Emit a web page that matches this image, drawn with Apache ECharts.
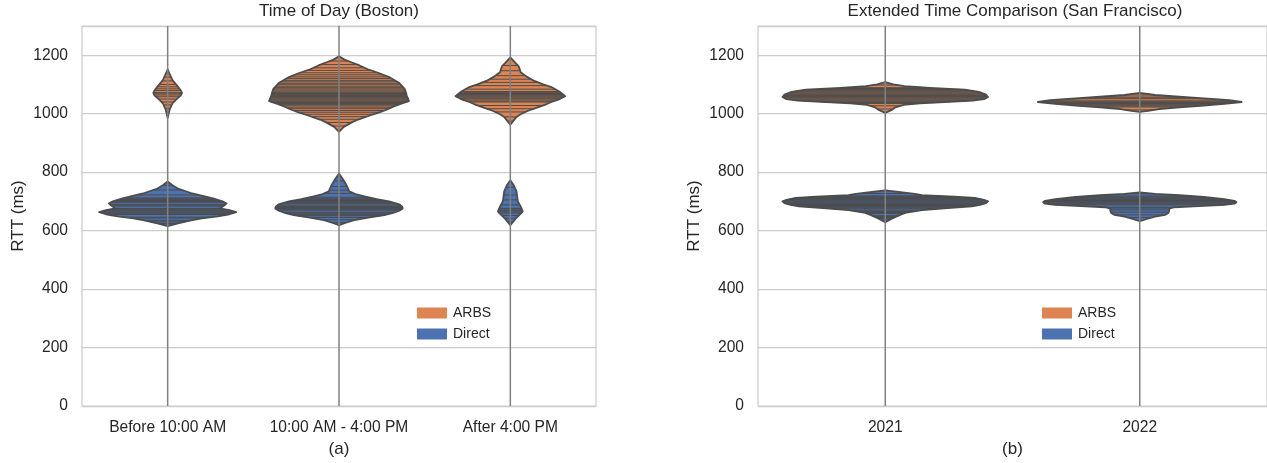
<!DOCTYPE html>
<html>
<head>
<meta charset="utf-8">
<script src="https://cdn.jsdelivr.net/npm/echarts@6/dist/echarts.min.js"></script>
<style>html,body{margin:0;padding:0;background:#fff}#chart{width:1267px;height:463px}</style>
</head>
<body>
<div id="chart"></div>
<script>
// ---------------- data ----------------
const bostonCategories = ['Before 10:00 AM', '10:00 AM - 4:00 PM', 'After 4:00 PM'];
const sfCategories = ['2021', '2022'];
const seriesNames = ['ARBS', 'Direct'];
const yTickMin = 0, yTickMax = 1300, yTickStep = 200;

// violin outlines: [RTT (ms), relative density]
const bostonArbsDensity = [
  [[1152,0],[1135,0.03],[1115,0.07],[1095,0.14],[1080,0.19],[1071,0.21],[1062,0.19],[1050,0.13],[1035,0.07],[1015,0.03],[986,0]],
  [[1196,0],[1185,0.08],[1176,0.18],[1165,0.3],[1152,0.42],[1140,0.57],[1125,0.73],[1105,0.88],[1084,0.96],[1070,0.98],[1060,0.99],[1050,1.01],[1043,1.02],[1035,0.92],[1025,0.8],[1016,0.72],[1005,0.6],[993,0.44],[980,0.28],[972,0.2],[955,0.07],[938,0]],
  [[1193,0],[1175,0.07],[1163,0.12],[1150,0.14],[1142,0.15],[1125,0.25],[1112,0.35],[1100,0.48],[1091,0.6],[1075,0.72],[1060,0.8],[1050,0.72],[1040,0.6],[1033,0.53],[1020,0.38],[1010,0.26],[998,0.15],[989,0.09],[962,0]]
];
const bostonDirectDensity = [
  [[768,0],[755,0.07],[744,0.15],[727,0.36],[710,0.66],[700,0.8],[693,0.86],[685,0.82],[676,0.76],[670,0.9],[663,1.0],[656,0.9],[649,0.73],[642,0.5],[636,0.36],[625,0.15],[615,0]],
  [[795,0],[775,0.06],[755,0.11],[734,0.15],[725,0.24],[717,0.37],[708,0.55],[700,0.73],[690,0.88],[683,0.92],[676,0.93],[668,0.88],[660,0.78],[653,0.66],[645,0.45],[636,0.22],[626,0.09],[619,0]],
  [[772,0],[755,0.05],[734,0.09],[715,0.1],[700,0.11],[683,0.15],[672,0.17],[666,0.18],[660,0.16],[653,0.13],[644,0.09],[636,0.06],[619,0]]
];
const sfArbsDensity = [
  [[1108,0],[1100,0.08],[1094,0.19],[1088,0.44],[1082,0.78],[1075,0.92],[1065,0.99],[1057,1.01],[1050,0.97],[1045,0.86],[1040,0.58],[1035,0.34],[1030,0.18],[1022,0.1],[1012,0.06],[1003,0]],
  [[1071,0],[1064,0.15],[1058,0.39],[1052,0.63],[1046,0.88],[1040,1.0],[1034,0.83],[1028,0.63],[1022,0.39],[1016,0.19],[1010,0.08],[1006,0]]
];
const sfDirectDensity = [
  [[738,0],[732,0.15],[726,0.29],[721,0.36],[716,0.68],[712,0.88],[705,0.97],[700,1.01],[694,0.99],[688,0.93],[683,0.85],[676,0.58],[670,0.36],[662,0.21],[653,0.14],[642,0.07],[629,0]],
  [[731,0],[726,0.15],[721,0.39],[715,0.63],[708,0.83],[702,0.93],[697,0.95],[692,0.93],[688,0.83],[684,0.58],[680,0.34],[675,0.29],[668,0.29],[660,0.28],[654,0.25],[648,0.15],[640,0.07],[632,0]]
];

// individual observations drawn as sticks (RTT, ms)
const bostonArbsSticks = [
  [1125,1112,1100,1092,1085,1079,1072,1068,1064,1058,1050,1040,1030,1018],
  [1180,1168,1157,1148,1140,1133,1126,1120,1114,1109,1104,1099,1094,1089,1085,1081,1077,1073,1069,1066,1062,1059,1056,1053,1050,1047,1044,1041,1038,1035,1031,1027,1022,1017,1011,1005,998,990,981,970,958],
  [1165,1147,1130,1118,1107,1096,1084,1076,1072,1069,1066,1063,1060,1057,1054,1051,1047,1043,1040,1028,1017,1006,989,975]
];
const bostonDirectSticks = [
  [755,739,722,712,709,706,703,700,697,690,687,684,676,673,670,667,664,661,658,655,646,643,635,630,624],
  [770,751,738,727,714,709,706,703,700,697,694,691,685,682,679,676,673,670,663,660,657,654,651,645,637,628],
  [748,722,705,688,676,671,668,664,660,652,642,630]
];
const sfArbsSticks = [
  [1098,1089,1086,1083,1080,1077,1074,1071,1068,1065,1062,1059,1056,1053,1050,1047,1044,1041,1038,1035,1027,1016],
  [1064,1057,1054,1051,1044,1041,1038,1035,1032,1029,1026,1023,1013]
];
const sfDirectSticks = [
  [727,719,716,713,710,707,704,701,698,695,692,689,686,683,680,677,674,668,665,662,659,651,648,645,642,636],
  [726,718,715,712,709,706,703,700,697,694,691,688,680,677,671,663,654,645]
];

// ---------------- styling ----------------
const COLOR_ARBS = '#dd8452';
const COLOR_DIRECT = '#4c72b0';
const INNER_GRAY = '#4c4c4c';
const TEXT = '#262626';
const FONT = '"Liberation Sans", Arial, sans-serif';

function densityAt(prof, v) {
  for (let j = 0; j < prof.length - 1; j++) {
    const a = prof[j], b = prof[j + 1];
    if (v <= a[0] && v >= b[0]) {
      const t = (a[0] - v) / (a[0] - b[0] || 1);
      return a[1] + (b[1] - a[1]) * t;
    }
  }
  return 0;
}

function violinRenderer(profiles, sticks, color) {
  return function (params, api) {
    const ci = api.value(0);
    const prof = profiles[ci];
    const band = api.size([1, 0])[0];
    const scale = band * 0.4;
    const cx = api.coord([ci, 0])[0];
    const left = [], right = [];
    prof.forEach(p => {
      const y = api.coord([ci, p[0]])[1];
      left.push([cx - p[1] * scale, y]);
      right.unshift([cx + p[1] * scale, y]);
    });
    const pts = left.concat(right);
    const children = [{
      type: 'polygon', shape: { points: pts },
      style: { fill: color, stroke: null }
    }];
    (sticks[ci] || []).forEach(v => {
      const w = densityAt(prof, v) * scale;
      const y = api.coord([ci, v])[1];
      children.push({
        type: 'line', shape: { x1: cx - w, y1: y, x2: cx + w, y2: y },
        style: { stroke: INNER_GRAY, lineWidth: 1 }
      });
    });
    children.push({
      type: 'polygon', shape: { points: pts },
      style: { fill: null, stroke: INNER_GRAY, lineWidth: 1.8, lineJoin: 'round' }
    });
    return { type: 'group', children: children };
  };
}

function stemRenderer(params, api) {
  const ci = api.value(0);
  const p0 = api.coord([ci, yTickMin]);
  const p1 = api.coord([ci, yTickMax]);
  return {
    type: 'line', shape: { x1: p0[0], y1: p0[1], x2: p1[0], y2: p1[1] },
    style: { stroke: '#808080', lineWidth: 1.5 }
  };
}

function xAxisFor(gi, cats, name) {
  return {
    type: 'category', gridIndex: gi, data: cats,
    name: name, nameLocation: 'middle', nameGap: 35,
    nameTextStyle: { fontSize: 17, color: TEXT, fontFamily: FONT },
    axisLine: { show: false }, axisTick: { show: false }, splitLine: { show: false },
    axisLabel: { fontSize: 15.6, color: TEXT, margin: 14, interval: 0, fontFamily: FONT }
  };
}
function yAxisFor(gi) {
  return {
    type: 'value', gridIndex: gi, min: yTickMin, max: yTickMax, interval: yTickStep,
    name: 'RTT (ms)', nameLocation: 'middle', nameGap: 55,
    nameTextStyle: { fontSize: 17, color: TEXT, fontFamily: FONT },
    axisLine: { show: false }, axisTick: { show: false },
    axisLabel: { fontSize: 15.6, color: TEXT, margin: 14, showMaxLabel: false, fontFamily: FONT,
      formatter: v => String(v) },
    splitLine: { lineStyle: { color: '#cccccc', width: 1.25 } }
  };
}
function violinSeries(name, gi, cats, profiles, sticks, color) {
  return {
    type: 'custom', name: name, xAxisIndex: gi, yAxisIndex: gi,
    renderItem: violinRenderer(profiles, sticks, color),
    itemStyle: { color: color },
    data: cats.map((c, i) => [i, profiles[i][0][0]]),
    z: 2, silent: true, clip: false
  };
}
function stemSeries(gi, cats) {
  return {
    type: 'custom', name: 'stem' + gi, xAxisIndex: gi, yAxisIndex: gi,
    renderItem: stemRenderer, data: cats.map((c, i) => [i, yTickMin]),
    z: 5, silent: true
  };
}
function legendFor(left) {
  return {
    data: seriesNames, orient: 'vertical', left: left, top: 301,
    icon: 'rect', itemWidth: 30, itemHeight: 11, itemGap: 7,
    itemStyle: { borderWidth: 0 },
    textStyle: { fontSize: 14, color: TEXT, lineHeight: 14, fontFamily: FONT, padding: [0, 0, 0, 1] }
  };
}

const chart = echarts.init(document.getElementById('chart'), null, { renderer: 'canvas' });
chart.setOption({
  animation: false,
  backgroundColor: '#ffffff',
  textStyle: { fontFamily: FONT },
  graphic: [
    { type: 'text', x: 339, y: 11, style: { text: 'Time of Day (Boston)', font: '17px ' + FONT, fill: TEXT, align: 'center', verticalAlign: 'middle' } },
    { type: 'text', x: 1015, y: 11, style: { text: 'Extended Time Comparison (San Francisco)', font: '17px ' + FONT, fill: TEXT, align: 'center', verticalAlign: 'middle' } }
  ],
  grid: [
    { left: 82, top: 26, width: 514, height: 383, show: true, borderColor: '#cccccc', borderWidth: 1.25, backgroundColor: 'transparent' },
    { left: 758, top: 26, width: 514, height: 383, show: true, borderColor: '#cccccc', borderWidth: 1.25, backgroundColor: 'transparent' }
  ],
  xAxis: [xAxisFor(0, bostonCategories, '(a)'), xAxisFor(1, sfCategories, '(b)')],
  yAxis: [yAxisFor(0), yAxisFor(1)],
  legend: [legendFor(412), legendFor(1037)],
  series: [
    violinSeries('ARBS', 0, bostonCategories, bostonArbsDensity, bostonArbsSticks, COLOR_ARBS),
    violinSeries('Direct', 0, bostonCategories, bostonDirectDensity, bostonDirectSticks, COLOR_DIRECT),
    violinSeries('ARBS', 1, sfCategories, sfArbsDensity, sfArbsSticks, COLOR_ARBS),
    violinSeries('Direct', 1, sfCategories, sfDirectDensity, sfDirectSticks, COLOR_DIRECT),
    stemSeries(0, bostonCategories),
    stemSeries(1, sfCategories)
  ]
});
</script>
</body>
</html>
